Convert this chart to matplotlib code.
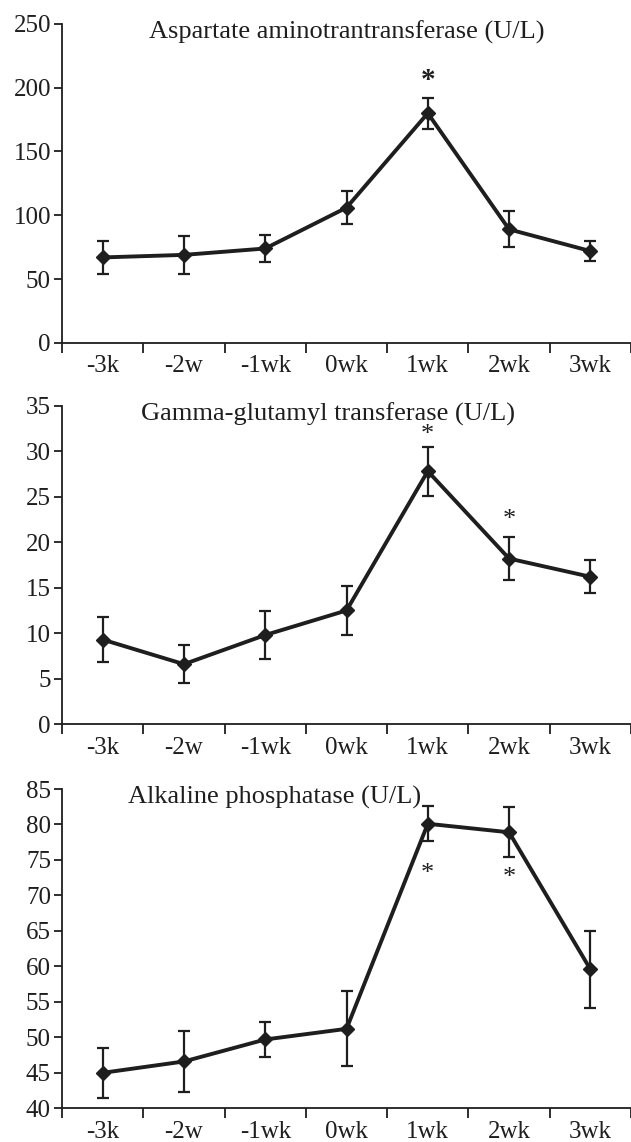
import numpy as np
import matplotlib
matplotlib.use('Agg')
import matplotlib.pyplot as plt

plt.rcParams['font.family'] = 'Liberation Serif'

weeks = ['-3k', '-2w', '-1wk', '0wk', '1wk', '2wk', '3wk']

ast_mean = [67, 69, 74, 106, 180, 89, 72]
ast_err = [12.8, 14.6, 10.7, 13, 12, 14, 8]
ast_stars = {4: 206}

ggt_mean = [9.3, 6.6, 9.8, 12.5, 27.8, 18.2, 16.2]
ggt_err = [2.45, 2.1, 2.6, 2.7, 2.7, 2.4, 1.8]
ggt_stars = {4: 31.8, 5: 22.4}

alp_mean = [45.0, 46.6, 49.7, 51.2, 80.1, 78.9, 59.6]
alp_err = [3.5, 4.3, 2.5, 5.3, 2.45, 3.5, 5.4]
alp_stars = {4: 73.0, 5: 72.4}

dark = '#1e1e1e'

fig = plt.figure(figsize=(6.31, 11.42), dpi=100)

panels = [
    ([0.0983, 0.6997, 0.9017, 0.2794], ast_mean, ast_err, ast_stars,
     'Aspartate aminotrantransferase (U/L)', (0, 250), 50, 0.236, 'bold', 21),
    ([0.0983, 0.3658, 0.9017, 0.2790], ggt_mean, ggt_err, ggt_stars,
     'Gamma-glutamyl transferase (U/L)', (0, 35), 5, 0.224, 'normal', 19),
    ([0.0983, 0.0295, 0.9017, 0.2796], alp_mean, alp_err, alp_stars,
     'Alkaline phosphatase (U/L)', (40, 85), 5, 0.203, 'normal', 19),
]

for rect, mean, err, stars, title, ylim, step, tx, sw, ssize in panels:
    ax = fig.add_axes(rect)
    x = np.arange(len(weeks)) + 0.5
    ax.errorbar(x, mean, yerr=err, color=dark, ecolor=dark, elinewidth=1.6,
                capsize=4, capthick=1.6, lw=2.8, marker='D', ms=7.5, zorder=3)
    for i, y in stars.items():
        ax.text(x[i], y, '*', ha='center', va='center', fontsize=ssize,
                fontweight=sw, color=dark)
    ax.set_xlim(0, len(weeks))
    ax.set_ylim(*ylim)
    ax.set_yticks(np.arange(ylim[0], ylim[1] + 1, step))
    ax.set_xticks(np.arange(len(weeks) + 1))
    ax.set_xticklabels([])
    ax.set_xticks(x, minor=True)
    ax.set_xticklabels(weeks, minor=True)
    ax.tick_params(axis='x', which='minor', length=0, pad=9)
    ax.tick_params(axis='x', which='major', length=7, width=1.3, color=dark)
    ax.tick_params(axis='y', length=6, width=1.3, color=dark, pad=2)
    ax.tick_params(labelsize=18, labelcolor=dark, which='both')
    for s in ['top', 'right']:
        ax.spines[s].set_visible(False)
    for s in ['left', 'bottom']:
        ax.spines[s].set_color(dark)
        ax.spines[s].set_linewidth(1.3)
    ax.spines['bottom'].set_clip_on(False)
    fig.text(tx, rect[1] + rect[3] - 0.0075, title, fontsize=19, color=dark,
             ha='left', va='center')

fig.savefig('out.png', dpi=100)
